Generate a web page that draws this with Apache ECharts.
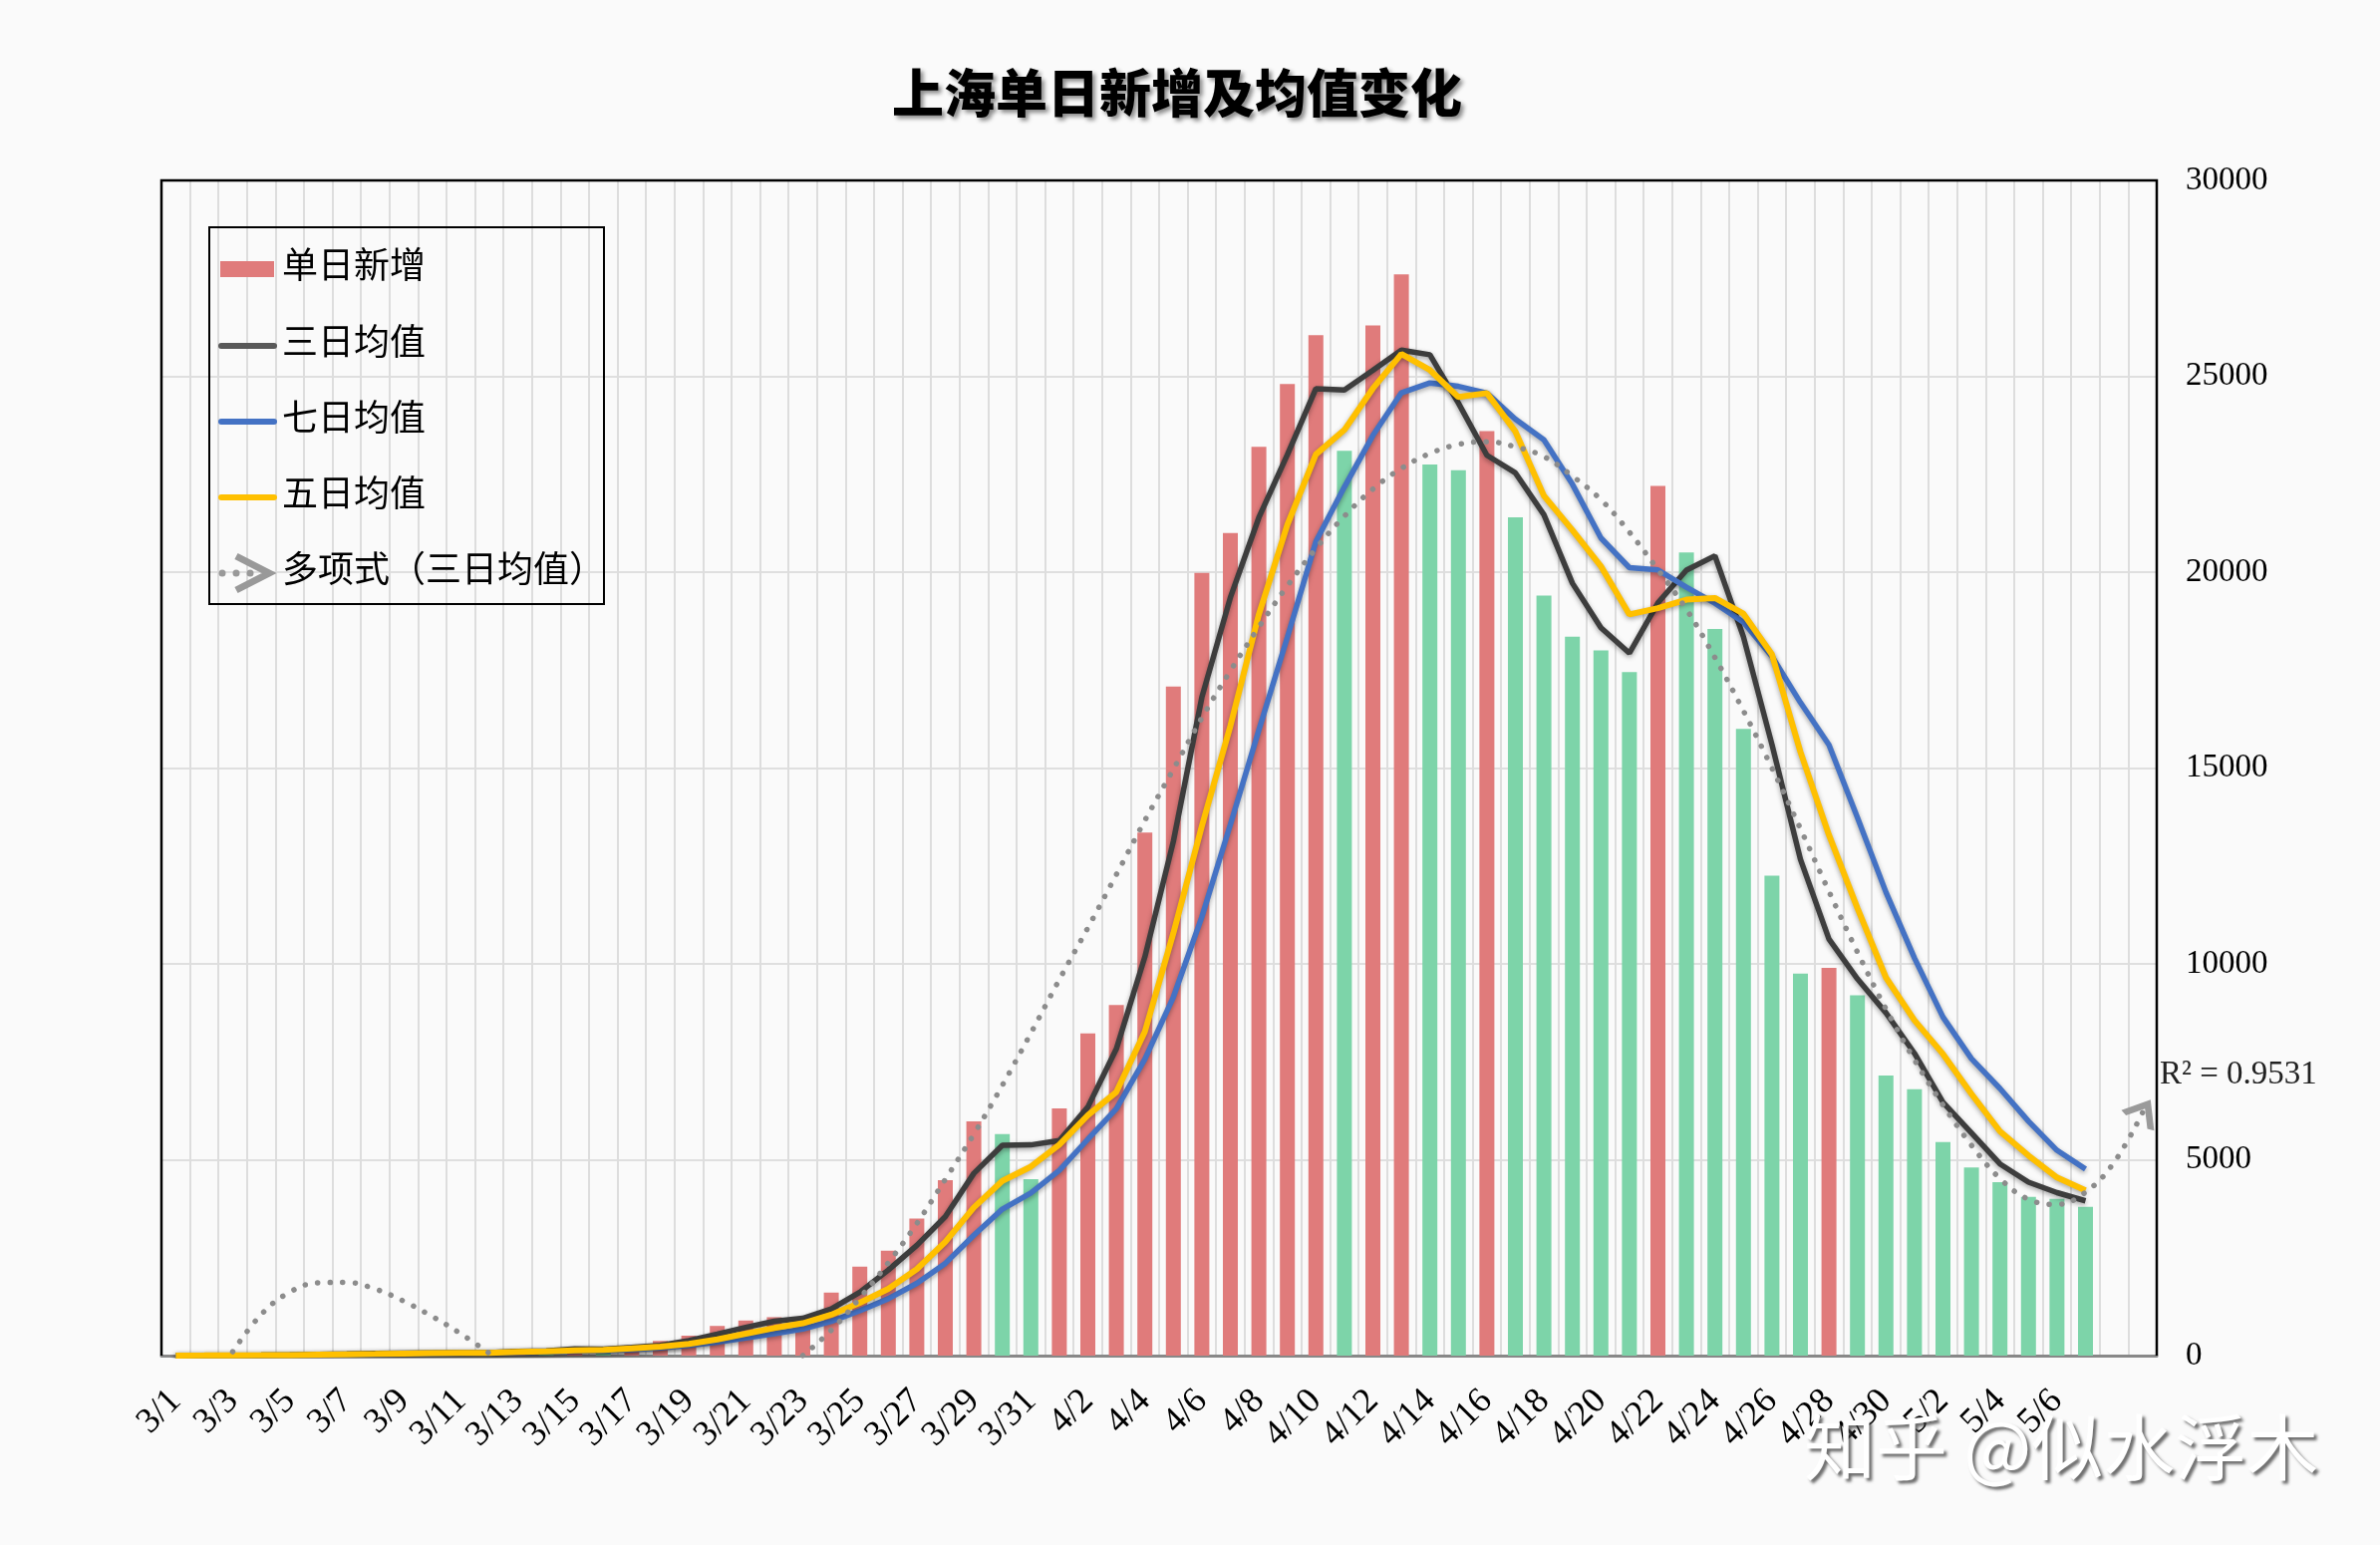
<!DOCTYPE html>
<html><head><meta charset="utf-8">
<script src="https://cdn.jsdelivr.net/npm/echarts@6/dist/echarts.min.js"></script>
<style>html,body{margin:0;padding:0;background:#fafafa;} #c{width:2388px;height:1550px;}</style>
</head><body><div id="c"></div>
<script>
// categories (axis runs two days past the data for the trendline forecast)
const dates = ['3/1','3/2','3/3','3/4','3/5','3/6','3/7','3/8','3/9','3/10','3/11','3/12','3/13','3/14','3/15','3/16','3/17','3/18','3/19','3/20','3/21','3/22','3/23','3/24','3/25','3/26','3/27','3/28','3/29','3/30','3/31',
'4/1','4/2','4/3','4/4','4/5','4/6','4/7','4/8','4/9','4/10','4/11','4/12','4/13','4/14','4/15','4/16','4/17','4/18','4/19','4/20','4/21','4/22','4/23','4/24','4/25','4/26','4/27','4/28','4/29','4/30',
'5/1','5/2','5/3','5/4','5/5','5/6','5/7','5/8','5/9'];

// 单日新增
const daily = [2,8,16,19,28,48,54,62,79,75, 83,65,169,139,202,158,260,374,509,758,
 896,981,983,1609,2269,2676,3500,4477,5982,5653, 4502,6311,8226,8950,13354,17077,19982,21000,23200,24800,
 26050,23100,26300,27600,22750,22600,23600,21400,19400,18350, 18000,17450,22200,20500,18550,16000,12250,9750,9900,9200,
 7150,6800,5450,4800,4430,4050,4000,3800];

// 三日均值
const avg3 = [2,5,9,14,21,32,43,55,65,72, 79,74,106,124,170,166,207,264,381,547,
 721,878,953,1191,1620,2185,2815,3551,4653,5371, 5379,5489,6346,7829,10177,13127,16804,19353,21394,23000,
 24683,24650,25150,25667,25550,24317,22983,22533,21467,19717, 18583,17933,19217,20050,20417,18350,15600,12667,10633,9617,
 8750,7717,6467,5683,4893,4427,4160,3950];

// 七日均值
const avg7 = [2,5,9,11,15,20,25,34,44,52, 61,67,84,96,116,127,154,195,259,343,
 451,562,680,873,1144,1453,1845,2356,3071,3738, 4151,4729,5522,6300,7568,9153,11200,13557,15970,18338,
 20780,22173,23490,24579,24829,24743,24571,23907,23379,22243, 20871,20114,20057,19614,19207,18721,17850,16671,15593,13736,
 11829,10150,8643,7579,6819,5983,5240,4761];

// 五日均值
const avg5 = [2,5,9,11,15,24,33,42,54,64, 71,73,94,106,132,147,186,227,301,412,
 559,704,825,1045,1348,1704,2207,2906,3781,4458, 4823,5385,6135,6728,8269,10784,13518,16073,18923,21212,
 23006,23630,24690,25570,25160,24470,24570,23590,21950,21070, 20150,18920,19080,19300,19340,18940,17900,15410,13290,11420,
 9650,8560,7700,6680,5726,5106,4546,4216];

// 多项式（三日均值） trendline (hidden where below 0)
const trend = [null,null,100,1050,1620,1860,1870,1700,1390,1000,
 560,60,null,null,null,null,null,null,null,null,
 null,null,0,650,1470,2370,3370,4500,5650,6900,
 8230,9600,10920,12280,13660,14970,16280,17480,18600,19650,
 20600,21430,22120,22650,23030,23260,23330,23200,22950,22450,
 21850,21020,20060,19050,17820,16460,15000,13450,11850,10300,
 8850,7550,6400,5370,4520,3990,3860,4170,4930,6200];

const yTicks = [0,5000,10000,15000,20000,25000,30000];
const titleText = '上海单日新增及均值变化';
const legendNames = ['单日新增','三日均值','七日均值','五日均值','多项式（三日均值）'];
const r2Text = 'R² = 0.9531';

const RED = '#e07b7b', GREEN = '#7dd4a9';
const C3 = '#3d3d3d', C7 = '#4472c4', C5 = '#ffc000', CT = '#8c8c8c';
const SERIF = '"Liberation Serif","Noto Sans CJK SC"';

const barData = daily.map((v, i) => ({
  value: v,
  itemStyle: { color: (i === 0 || v >= daily[i - 1]) ? RED : GREEN }
}));
const trendData = trend.map((v, i) => i === trend.length - 1 ? {
  value: v,
  symbol: 'path://M0,0 L10,8 L0,16',
  symbolSize: [20, 32],
  symbolRotate: 58,
  itemStyle: { color: 'rgba(0,0,0,0)', borderColor: '#9a9a9a', borderWidth: 6 }
} : v);

const lineShadow = { shadowColor: 'rgba(0,0,0,0.35)', shadowBlur: 5, shadowOffsetY: 2 };

// plot box in pixels
const G = { left: 162, right: 224, top: 181, bottom: 190 };
const PR = 2388 - G.right, PB = 1550 - G.bottom;

const chart = echarts.init(document.getElementById('c'));
const legY = [270, 347, 423, 499, 575];
chart.setOption({
  backgroundColor: '#fafafa',
  animation: false,
  title: {
    text: titleText, left: 890, top: 62,
    textStyle: { fontSize: 52, fontWeight: 900, fontFamily: '"Noto Sans CJK SC"', color: '#000',
      textShadowColor: 'rgba(0,0,0,0.45)', textShadowBlur: 4, textShadowOffsetX: 3, textShadowOffsetY: 3 }
  },
  grid: { left: G.left, right: G.right, top: G.top, bottom: G.bottom, show: false },
  xAxis: {
    type: 'category', data: dates, boundaryGap: true,
    axisLine: { show: true, lineStyle: { color: '#888', width: 3 } },
    axisTick: { show: false },
    splitLine: { show: true, interval: 0, lineStyle: { color: '#dddddd', width: 2 } },
    axisLabel: { interval: (i) => i % 2 === 0 && i <= 66, rotate: 45, margin: 40,
      fontSize: 36, fontFamily: SERIF, color: '#000' }
  },
  yAxis: {
    type: 'value', position: 'right', min: yTicks[0], max: yTicks[yTicks.length - 1], interval: 5000,
    axisLine: { show: false }, axisTick: { show: false },
    splitLine: { show: true, lineStyle: { color: '#d6d6d6', width: 1.5 } },
    axisLabel: { margin: 29, fontSize: 33, fontFamily: SERIF, color: '#000', align: 'left',
      formatter: (v) => String(v) }
  },
  series: [
    { name: legendNames[0], type: 'bar', data: barData, barWidth: 15, emphasis: { disabled: true } },
    { name: legendNames[1], type: 'line', data: avg3, symbol: 'none', lineStyle: Object.assign({ color: C3, width: 5.5 }, lineShadow), itemStyle: { color: C3 }, emphasis: { disabled: true } },
    { name: legendNames[2], type: 'line', data: avg7, symbol: 'none', lineStyle: Object.assign({ color: C7, width: 5.5 }, lineShadow), itemStyle: { color: C7 }, emphasis: { disabled: true } },
    { name: legendNames[3], type: 'line', data: avg5, symbol: 'none', lineStyle: Object.assign({ color: C5, width: 6 }, lineShadow), itemStyle: { color: C5 }, emphasis: { disabled: true } },
    { name: legendNames[4], type: 'line', data: trendData, symbol: 'none', showSymbol: true, showAllSymbol: true,
      smooth: 0.4, connectNulls: false,
      lineStyle: { color: CT, width: 5.5, type: [0.1, 12.5], cap: 'round' }, itemStyle: { color: CT }, emphasis: { disabled: true } }
  ],
  graphic: [
    // plot frame: black left / top / right edges (bottom is the grey category axis)
    { type: 'polyline', z: 90, shape: { points: [[G.left, PB], [G.left, G.top], [PR, G.top], [PR, PB]] }, style: { fill: 'none', stroke: '#000', lineWidth: 2.5 } },
    // legend
    { type: 'rect', z: 100, shape: { x: 210, y: 228, width: 396, height: 378 }, style: { fill: 'none', stroke: '#000', lineWidth: 2 } },
    { type: 'rect', z: 100, shape: { x: 221, y: legY[0] - 8, width: 54, height: 16 }, style: { fill: RED } },
    { type: 'line', z: 100, shape: { x1: 222, y1: legY[1], x2: 275, y2: legY[1] }, style: { stroke: '#595959', lineWidth: 6, lineCap: 'round' } },
    { type: 'line', z: 100, shape: { x1: 222, y1: legY[2], x2: 275, y2: legY[2] }, style: { stroke: C7, lineWidth: 6, lineCap: 'round' } },
    { type: 'line', z: 100, shape: { x1: 222, y1: legY[3], x2: 275, y2: legY[3] }, style: { stroke: C5, lineWidth: 6, lineCap: 'round' } },
    { type: 'circle', z: 100, shape: { cx: 223, cy: legY[4], r: 3.5 }, style: { fill: '#999' } },
    { type: 'circle', z: 100, shape: { cx: 237, cy: legY[4], r: 3.5 }, style: { fill: '#999' } },
    { type: 'circle', z: 100, shape: { cx: 251, cy: legY[4], r: 3.5 }, style: { fill: '#999' } },
    { type: 'polyline', z: 100, shape: { points: [[237, legY[4] - 17], [270, legY[4]], [237, legY[4] + 17]] }, style: { fill: 'none', stroke: '#999', lineWidth: 7 } },
    ...legendNames.map((n, k) => ({ type: 'text', z: 100, style: { text: n, x: 283, y: legY[k], font: '36px ' + SERIF, fill: '#000', verticalAlign: 'middle', textVerticalAlign: 'middle' } })),
    { type: 'text', z: 100, style: { text: r2Text, x: 2167, y: 1078, font: '33px "Liberation Serif"', fill: '#222', verticalAlign: 'middle', textVerticalAlign: 'middle' } },
    { type: 'text', z: 200, style: { text: '知乎 @似水浮木', x: 1810, y: 1452, font: '72px "Noto Sans CJK SC"', fill: '#ffffff',
      verticalAlign: 'middle', textVerticalAlign: 'middle',
      textShadowColor: 'rgba(60,60,60,0.75)', textShadowBlur: 3, textShadowOffsetX: 3, textShadowOffsetY: 3 } }
  ]
});
</script></body></html>
